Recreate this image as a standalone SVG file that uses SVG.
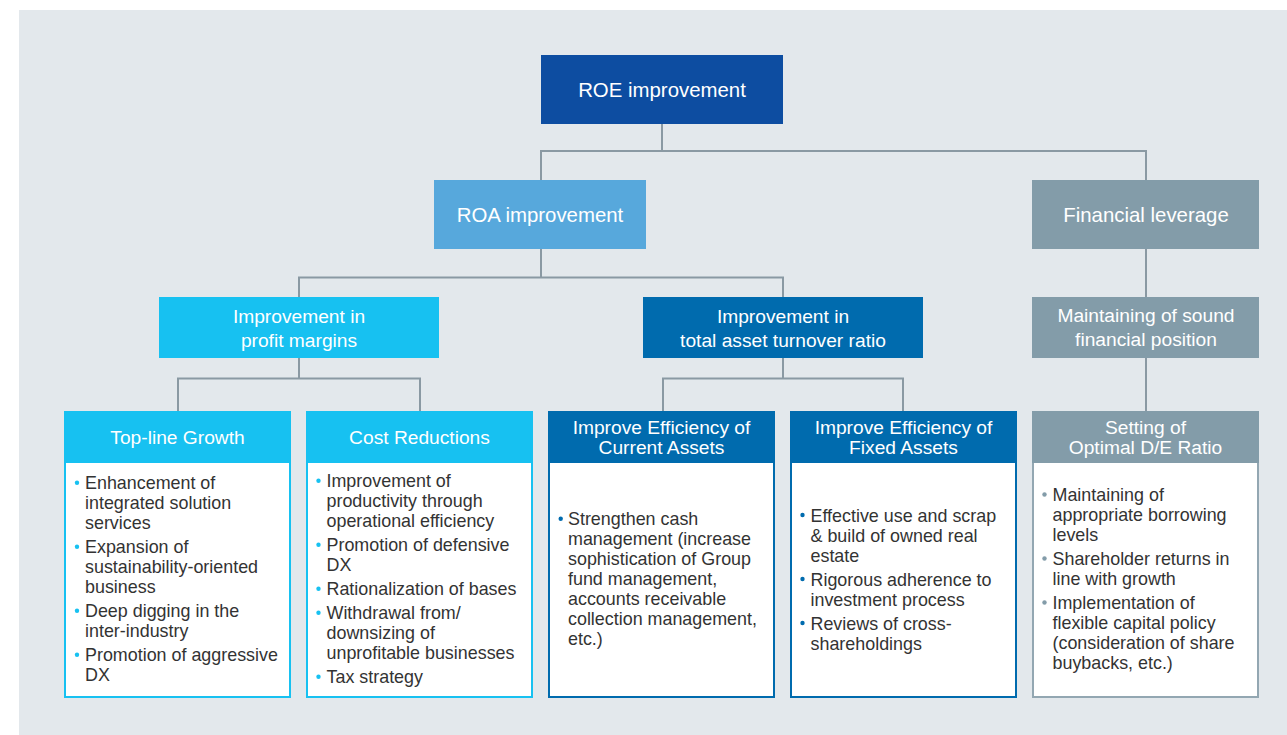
<svg xmlns="http://www.w3.org/2000/svg" width="1287" height="735" viewBox="0 0 1287 735">
<style>
.hd{fill:#ffffff;font-family:"Liberation Sans",Arial,Helvetica,sans-serif;text-anchor:middle}
.t1{font-size:20.4px}
.t2{font-size:19.2px}
.bd{fill:#333333;font-family:"Liberation Sans",Arial,Helvetica,sans-serif;font-size:17.9px}
.cn{fill:none;stroke:#8a99a3;stroke-width:2}
.bc{fill:#ffffff;stroke:#17c1f1;stroke-width:2}
.bb{fill:#ffffff;stroke:#006bae;stroke-width:2}
.bg{fill:#ffffff;stroke:#93a7b2;stroke-width:2}
.dc{fill:#17c1f1}
.db{fill:#006bae}
.dg{fill:#839ca9}
</style>
<rect x="19" y="10" width="1268" height="725" fill="#e3e8ec"/>
<g id="connectors">
<path class="cn" d="M662,124 V151 M541,180 V151 H1146 V180"/>
<path class="cn" d="M541,249 V277.5 M299,297 V277.5 H783 V297"/>
<path class="cn" d="M1146,249 V297"/>
<path class="cn" d="M299,358 V378.5 M178,411 V378.5 H420 V411"/>
<path class="cn" d="M783,358 V378.5 M663,411 V378.5 H903 V411"/>
<path class="cn" d="M1146,358 V411"/>
</g>
<g id="roe">
<rect x="541" y="55" width="242" height="69" fill="#0d4da1"/>
<text class="hd t1" x="662" y="96.5">ROE improvement</text>
</g>
<g id="roa">
<rect x="434" y="180" width="212" height="69" fill="#57a8dc"/>
<text class="hd t1" x="540" y="221.5">ROA improvement</text>
</g>
<g id="leverage">
<rect x="1032" y="180" width="227" height="69" fill="#839ca9"/>
<text class="hd t1" x="1146" y="221.5">Financial leverage</text>
</g>
<g id="profit">
<rect x="159" y="297" width="280" height="61" fill="#17c1f1"/>
<text class="hd t2" x="299" y="322.5">Improvement in</text>
<text class="hd t2" x="299" y="346.5">profit margins</text>
</g>
<g id="turnover">
<rect x="643" y="297" width="280" height="61" fill="#006bae"/>
<text class="hd t2" x="783" y="322.5">Improvement in</text>
<text class="hd t2" x="783" y="346.5">total asset turnover ratio</text>
</g>
<g id="sound">
<rect x="1032" y="297" width="227" height="61" fill="#839ca9"/>
<text class="hd t2" x="1146" y="322">Maintaining of sound</text>
<text class="hd t2" x="1146" y="345.5">financial position</text>
</g>
<g id="topline">
<rect class="bc" x="65" y="412" width="225" height="285"/>
<rect x="64" y="411" width="227" height="52" fill="#17c1f1"/>
<text class="hd t2" x="177.5" y="444">Top-line Growth</text>
<circle class="dc" cx="77" cy="482.7" r="2.2"/>
<circle class="dc" cx="77" cy="546.7" r="2.2"/>
<circle class="dc" cx="77" cy="610.7" r="2.2"/>
<circle class="dc" cx="77" cy="654.7" r="2.2"/>
<text class="bd" x="85"><tspan x="85" y="489.3">Enhancement of</tspan><tspan x="85" y="509.3">integrated solution</tspan><tspan x="85" y="529.3">services</tspan><tspan x="85" y="553.3">Expansion of</tspan><tspan x="85" y="573.3">sustainability-oriented</tspan><tspan x="85" y="593.3">business</tspan><tspan x="85" y="617.3">Deep digging in the</tspan><tspan x="85" y="637.3">inter-industry</tspan><tspan x="85" y="661.3">Promotion of aggressive</tspan><tspan x="85" y="681.3">DX</tspan></text>
</g>
<g id="cost">
<rect class="bc" x="307" y="412" width="225" height="285"/>
<rect x="306" y="411" width="227" height="52" fill="#17c1f1"/>
<text class="hd t2" x="419.5" y="444">Cost Reductions</text>
<circle class="dc" cx="318.5" cy="480.7" r="2.2"/>
<circle class="dc" cx="318.5" cy="544.7" r="2.2"/>
<circle class="dc" cx="318.5" cy="588.7" r="2.2"/>
<circle class="dc" cx="318.5" cy="612.7" r="2.2"/>
<circle class="dc" cx="318.5" cy="676.7" r="2.2"/>
<text class="bd"><tspan x="326.5" y="487.3">Improvement of</tspan><tspan x="326.5" y="507.3">productivity through</tspan><tspan x="326.5" y="527.3">operational efficiency</tspan><tspan x="326.5" y="551.3">Promotion of defensive</tspan><tspan x="326.5" y="571.3">DX</tspan><tspan x="326.5" y="595.3">Rationalization of bases</tspan><tspan x="326.5" y="619.3">Withdrawal from/</tspan><tspan x="326.5" y="639.3">downsizing of</tspan><tspan x="326.5" y="659.3">unprofitable businesses</tspan><tspan x="326.5" y="683.3">Tax strategy</tspan></text>
</g>
<g id="current">
<rect class="bb" x="549" y="412" width="225" height="285"/>
<rect x="548" y="411" width="227" height="52" fill="#006bae"/>
<text class="hd t2" x="661.5" y="433.5">Improve Efficiency of</text>
<text class="hd t2" x="661.5" y="453.5">Current Assets</text>
<circle class="db" cx="560.7" cy="518.7" r="2.2"/>
<text class="bd"><tspan x="568" y="525.3">Strengthen cash</tspan><tspan x="568" y="545.3">management (increase</tspan><tspan x="568" y="565.3">sophistication of Group</tspan><tspan x="568" y="585.3">fund management,</tspan><tspan x="568" y="605.3">accounts receivable</tspan><tspan x="568" y="625.3">collection management,</tspan><tspan x="568" y="645.3">etc.)</tspan></text>
</g>
<g id="fixed">
<rect class="bb" x="791" y="412" width="225" height="285"/>
<rect x="790" y="411" width="227" height="52" fill="#006bae"/>
<text class="hd t2" x="903.5" y="433.5">Improve Efficiency of</text>
<text class="hd t2" x="903.5" y="453.5">Fixed Assets</text>
<circle class="db" cx="802.5" cy="515" r="2.2"/>
<circle class="db" cx="802.5" cy="579" r="2.2"/>
<circle class="db" cx="802.5" cy="623" r="2.2"/>
<text class="bd"><tspan x="810.5" y="521.7">Effective use and scrap</tspan><tspan x="810.5" y="541.7">&amp; build of owned real</tspan><tspan x="810.5" y="561.7">estate</tspan><tspan x="810.5" y="585.7">Rigorous adherence to</tspan><tspan x="810.5" y="605.7">investment process</tspan><tspan x="810.5" y="629.7">Reviews of cross-</tspan><tspan x="810.5" y="649.7">shareholdings</tspan></text>
</g>
<g id="deratio">
<rect class="bg" x="1033" y="412" width="225" height="285"/>
<rect x="1032" y="411" width="227" height="52" fill="#839ca9"/>
<text class="hd t2" x="1145.5" y="433.5">Setting of</text>
<text class="hd t2" x="1145.5" y="453.5">Optimal D/E Ratio</text>
<circle class="dg" cx="1044.5" cy="494.5" r="2.2"/>
<circle class="dg" cx="1044.5" cy="558.5" r="2.2"/>
<circle class="dg" cx="1044.5" cy="602.5" r="2.2"/>
<text class="bd"><tspan x="1052.5" y="501">Maintaining of</tspan><tspan x="1052.5" y="521">appropriate borrowing</tspan><tspan x="1052.5" y="541">levels</tspan><tspan x="1052.5" y="565">Shareholder returns in</tspan><tspan x="1052.5" y="585">line with growth</tspan><tspan x="1052.5" y="609">Implementation of</tspan><tspan x="1052.5" y="629">flexible capital policy</tspan><tspan x="1052.5" y="649">(consideration of share</tspan><tspan x="1052.5" y="669">buybacks, etc.)</tspan></text>
</g>
</svg>
